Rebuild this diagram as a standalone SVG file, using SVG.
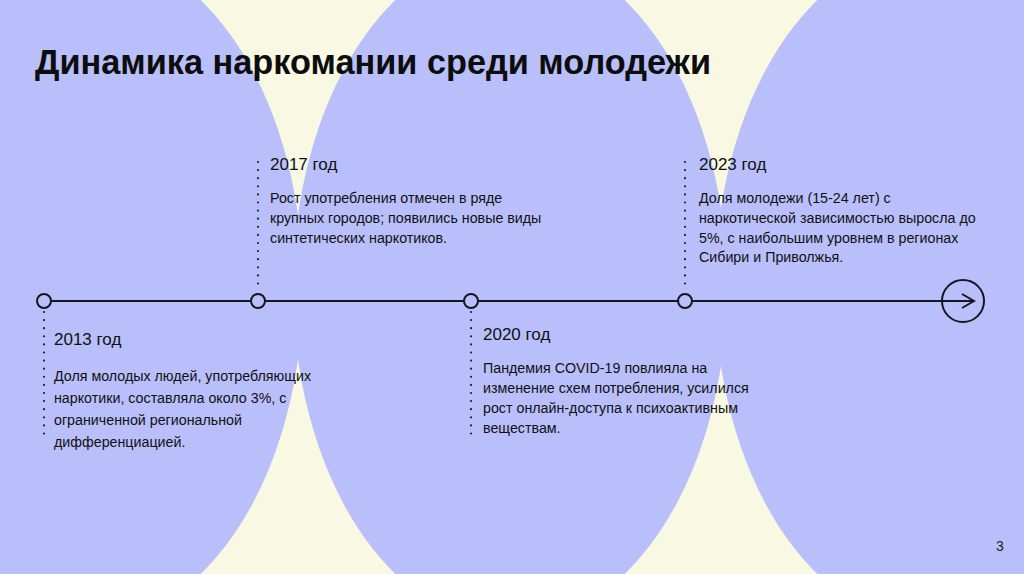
<svg xmlns="http://www.w3.org/2000/svg" width="1024" height="574" viewBox="0 0 1024 574">
<defs>
<style>
.bg{fill:#f9f8e2}
.blob{fill:#b9bffa}
.title{font-family:"Liberation Sans",Arial,sans-serif;font-weight:bold;font-size:34.3px;fill:#0d0d0d}
.year{font-family:"Liberation Sans",Arial,sans-serif;font-size:17px;fill:#111}
.body{font-family:"Liberation Sans",Arial,sans-serif;font-size:14.25px;fill:#111}
.pg{font-family:"Liberation Sans",Arial,sans-serif;font-size:14px;fill:#222}
.axis{stroke:#16161e;stroke-width:2;fill:none}
.dot{stroke:#22222e;stroke-width:2.2;stroke-linecap:round;stroke-dasharray:0 8.1;fill:none}
.node{fill:#b9bffa;stroke:#16161e;stroke-width:2}
</style>
</defs>
<rect class="bg" x="0" y="0" width="1024" height="574"/>
<g id="background">
<ellipse class="blob" cx="86" cy="287" rx="217" ry="338"/>
<ellipse class="blob" cx="510" cy="287" rx="217" ry="338"/>
<ellipse class="blob" cx="932" cy="287" rx="217" ry="338"/>
</g>
<text class="title" x="35" y="74">Динамика наркомании среди молодежи</text>
<g id="connectors">
<line class="axis" x1="44" y1="301" x2="974" y2="301"/>
<polyline class="axis" points="962,294 974,301 962,308"/>
<line class="dot" x1="44" y1="312" x2="44" y2="434"/>
<line class="dot" x1="258" y1="162" x2="258" y2="284"/>
<line class="dot" x1="471" y1="312" x2="471" y2="434"/>
<line class="dot" x1="685" y1="162" x2="685" y2="284"/>
</g>
<g id="node-2013">
<circle class="node" cx="44" cy="301" r="7"/>
<text class="year" x="54" y="345">2013 год</text>
<text class="body" x="54" y="381">Доля молодых людей, употребляющих</text>
<text class="body" x="54" y="403">наркотики, составляла около 3%, с</text>
<text class="body" x="54" y="425">ограниченной региональной</text>
<text class="body" x="54" y="447">дифференциацией.</text>
</g>
<g id="node-2017">
<circle class="node" cx="258" cy="301" r="7"/>
<text class="year" x="270" y="170">2017 год</text>
<text class="body" x="270" y="203">Рост употребления отмечен в ряде</text>
<text class="body" x="270" y="223">крупных городов; появились новые виды</text>
<text class="body" x="270" y="243">синтетических наркотиков.</text>
</g>
<g id="node-2020">
<circle class="node" cx="471" cy="301" r="7"/>
<text class="year" x="483" y="340">2020 год</text>
<text class="body" x="483" y="373">Пандемия COVID-19 повлияла на</text>
<text class="body" x="483" y="393">изменение схем потребления, усилился</text>
<text class="body" x="483" y="413">рост онлайн-доступа к психоактивным</text>
<text class="body" x="483" y="433">веществам.</text>
</g>
<g id="node-2023">
<circle class="node" cx="685" cy="301" r="7"/>
<text class="year" x="699" y="170">2023 год</text>
<text class="body" x="699" y="203">Доля молодежи (15-24 лет) с</text>
<text class="body" x="699" y="223">наркотической зависимостью выросла до</text>
<text class="body" x="699" y="243">5%, с наибольшим уровнем в регионах</text>
<text class="body" x="699" y="262">Сибири и Приволжья.</text>
</g>
<g id="node-end">
<circle cx="963" cy="301" r="21" fill="none" stroke="#16161e" stroke-width="2"/>
</g>
<text class="pg" x="1000" y="551" text-anchor="middle">3</text>
</svg>
